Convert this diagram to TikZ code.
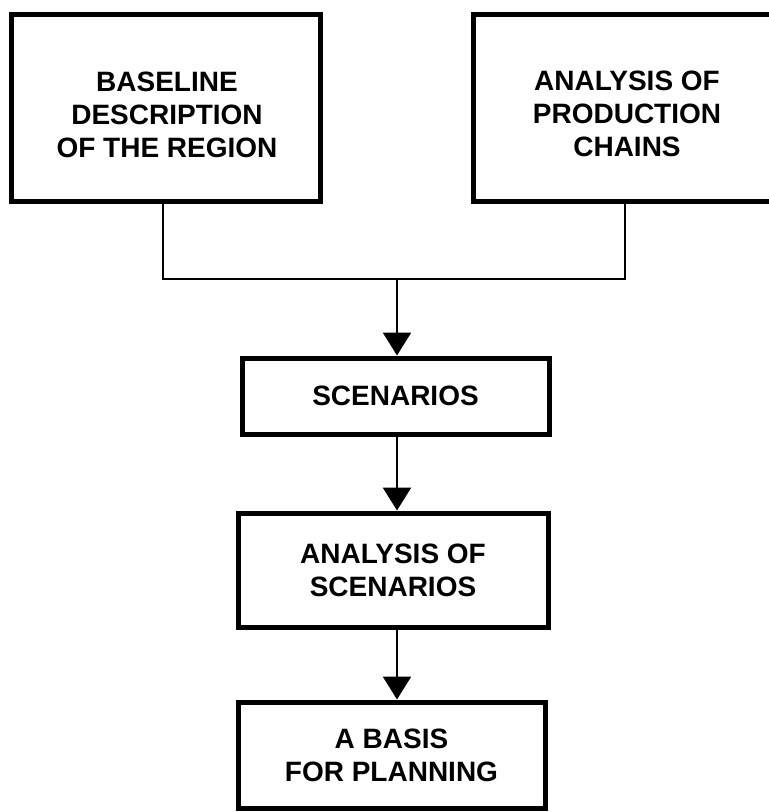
\documentclass[tikz,border=0pt]{standalone}
\usepackage{fontspec}
\setmainfont{Liberation Sans}
\usetikzlibrary{arrows.meta}
\begin{document}
\begin{tikzpicture}[x=1pt,y=-1pt,
  box/.style={draw=black, line width=5pt, rectangle, inner sep=0pt, align=center,
    font=\fontsize{28}{33}\selectfont\bfseries},
  lbl/.style={inner sep=0pt, align=center, font=\fontsize{28}{33}\selectfont\bfseries},
  link/.style={draw=black, line width=2.5pt},
  arr/.style={link, -{Triangle[width=28pt,length=23pt]}}]
\useasboundingbox (0,0) rectangle (769,812);
% boxes
\node[box, minimum width=309pt, minimum height=187pt] (b1) at (165.5,107.5) {};
\node[lbl] (t1) at (167,115) {BASELINE\\DESCRIPTION\\OF THE REGION};
\node[box, minimum width=299pt, minimum height=187pt] (b2) at (622.5,107.5) {};
\node[lbl] (t2) at (627,114) {ANALYSIS OF\\PRODUCTION\\CHAINS};
\node[box, minimum width=307pt, minimum height=76pt] (sc) at (395.5,396) {SCENARIOS};
\node[box, minimum width=310pt, minimum height=114pt] (an) at (393,570) {ANALYSIS OF\\SCENARIOS};
\node[box, minimum width=307pt, minimum height=106pt] (pl) at (391.5,755) {A BASIS\\FOR PLANNING};
% connectors
\coordinate (j) at (397,279);
\draw[link] ([xshift=-2.5pt]b1.south) |- (j);
\draw[link] ([xshift=2.5pt]b2.south) |- (j);
\draw[arr] (j) -- (j |- sc.north);
\draw[arr] (j |- sc.south) -- (j |- an.north);
\draw[arr] (j |- an.south) -- (j |- pl.north);
\end{tikzpicture}
\end{document}
